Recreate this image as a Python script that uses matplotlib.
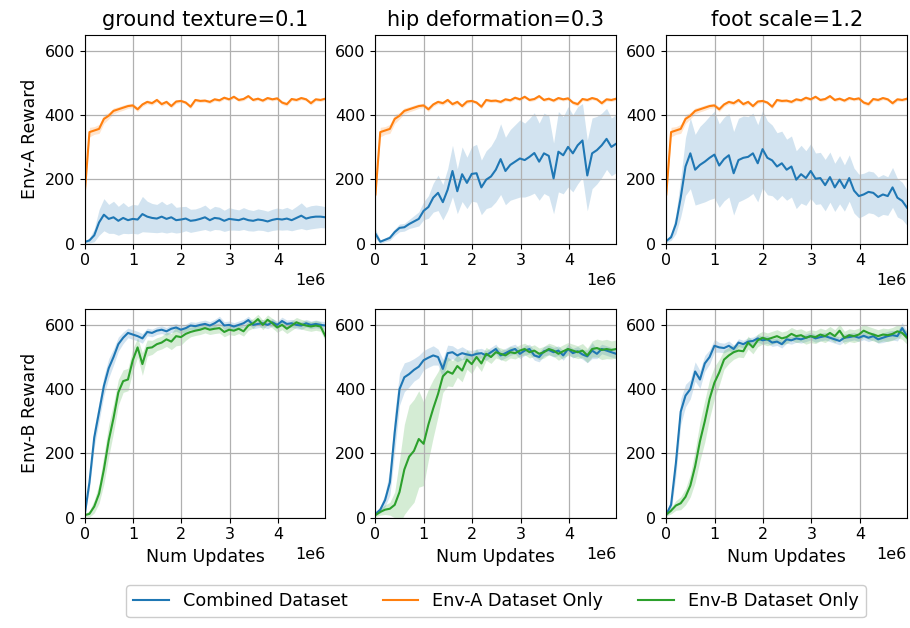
import numpy as np
import matplotlib
matplotlib.use("Agg")
import matplotlib.pyplot as plt

# ---- data -------------------------------------------------------------
titles = ["ground texture=0.1", "hip deformation=0.3", "foot scale=1.2"]
row_labels = ["Env-A Reward", "Env-B Reward"]
series_names = ["Combined Dataset", "Env-A Dataset Only", "Env-B Dataset Only"]
x_max = 4.975e6

# Env-A dataset-only policy evaluated on Env-A (same baseline for every column)
envA_only_mean = [153, 347, 352, 357, 388, 398, 413, 418, 423, 428, 430, 418, 433, 441, 437, 447, 434,
                  441, 428, 442, 444, 439, 426, 447, 444, 445, 441, 449, 446, 454, 449, 457, 447, 450,
                  459, 447, 451, 445, 453, 449, 452, 439, 434, 450, 447, 453, 449, 437, 449, 447, 451]
envA_only_sd = [10, 15, 12, 14, 14, 10, 9, 8, 8, 7, 7, 7, 6, 6, 6, 6, 6, 6, 6, 6, 5, 5, 6, 5, 5, 5,
                5, 5, 5, 5, 5, 5, 5, 5, 5, 5, 5, 5, 5, 5, 5, 6, 6, 5, 5, 5, 5, 6, 5, 5, 5]

# Combined dataset evaluated on Env-A
ground_A_comb_mean = [5, 10, 26, 66, 90, 77, 82, 71, 80, 73, 77, 75, 92, 84, 80, 78, 84, 77, 82, 73, 75,
                      78, 71, 73, 77, 82, 73, 80, 78, 71, 77, 75, 73, 78, 73, 71, 75, 73, 69, 74, 77, 75,
                      78, 73, 80, 87, 78, 82, 84, 84, 82]
ground_A_comb_sd = [3, 8, 20, 40, 50, 45, 50, 45, 48, 42, 45, 45, 55, 48, 45, 44, 48, 44, 46, 40, 40, 38,
                    36, 35, 36, 38, 34, 36, 35, 33, 35, 33, 32, 34, 33, 32, 33, 32, 32, 33, 34, 33, 35,
                    33, 36, 40, 35, 36, 36, 34, 33]
hip_A_comb_mean = [31, 6, 12, 18, 36, 49, 51, 61, 69, 77, 102, 114, 143, 158, 129, 168, 226, 163, 216,
                   189, 217, 219, 175, 199, 209, 230, 263, 226, 245, 255, 265, 260, 270, 282, 255, 281,
                   273, 203, 286, 275, 301, 281, 306, 321, 212, 281, 291, 306, 326, 301, 311]
hip_A_comb_sd = [15, 5, 6, 8, 10, 12, 12, 14, 18, 22, 28, 35, 45, 55, 55, 65, 80, 70, 85, 80, 85, 90, 85,
                 90, 95, 100, 110, 105, 110, 115, 120, 115, 120, 125, 120, 125, 125, 110, 125, 120, 125,
                 120, 120, 115, 110, 110, 105, 100, 95, 90, 90]
foot_A_comb_mean = [8, 20, 61, 143, 240, 281, 230, 245, 255, 267, 277, 243, 263, 275, 219, 260, 267, 270,
                    281, 250, 294, 267, 259, 240, 250, 230, 240, 199, 216, 204, 226, 202, 204, 182, 207,
                    175, 199, 173, 204, 165, 148, 153, 161, 158, 145, 153, 148, 175, 143, 133, 112]
foot_A_comb_sd = [5, 10, 30, 60, 90, 110, 110, 120, 125, 130, 135, 130, 130, 130, 130, 130, 130, 125, 125,
                  120, 120, 115, 110, 105, 100, 95, 95, 90, 90, 85, 85, 80, 80, 80, 78, 75, 75, 72, 72,
                  70, 68, 66, 65, 65, 62, 62, 60, 62, 60, 58, 55]

# Combined dataset evaluated on Env-B
ground_B_comb_mean = [8, 110, 250, 330, 410, 465, 500, 540, 560, 575, 570, 565, 558, 578, 575, 582, 585,
                      580, 588, 592, 585, 590, 598, 596, 600, 603, 598, 605, 615, 598, 600, 595, 600, 605,
                      615, 600, 603, 605, 600, 608, 600, 612, 603, 605, 600, 598, 605, 600, 603, 600, 598]
ground_B_comb_sd = [5, 20, 30, 30, 30, 30, 25, 22, 18, 15, 15, 15, 15, 12, 12, 12, 12, 12, 12, 12, 12,
                    12, 12, 12, 12, 12, 12, 12, 12, 12, 12, 12, 12, 12, 12, 12, 12, 12, 12, 12, 12, 12,
                    12, 12, 12, 12, 12, 12, 12, 12, 12]
hip_B_comb_mean = [12, 25, 55, 110, 265, 400, 437, 447, 460, 470, 490, 498, 505, 500, 463, 512, 515, 505,
                   512, 508, 505, 510, 512, 505, 515, 525, 505, 512, 520, 525, 510, 520, 525, 505, 500,
                   518, 522, 515, 520, 505, 525, 512, 518, 508, 502, 520, 510, 525, 520, 515, 510]
hip_B_comb_sd = [5, 10, 20, 40, 60, 50, 45, 40, 35, 35, 30, 30, 30, 25, 30, 25, 20, 20, 20, 15, 15, 15,
                 15, 15, 15, 15, 15, 15, 15, 15, 15, 15, 15, 15, 15, 15, 15, 15, 15, 15, 15, 15, 15, 15,
                 20, 25, 15, 15, 15, 15, 15]
foot_B_comb_mean = [10, 40, 170, 330, 380, 400, 455, 430, 480, 500, 535, 530, 528, 535, 525, 545, 540,
                    548, 550, 558, 552, 555, 545, 548, 540, 555, 552, 558, 555, 560, 565, 558, 562, 565,
                    560, 555, 550, 560, 562, 565, 560, 566, 560, 565, 555, 560, 565, 568, 565, 590, 565]
foot_B_comb_sd = [5, 20, 40, 40, 35, 30, 30, 28, 25, 22, 20, 15, 15, 15, 12, 12, 12, 12, 12, 12, 12, 12,
                  12, 12, 12, 12, 12, 12, 12, 12, 12, 12, 12, 12, 12, 12, 12, 12, 12, 12, 12, 12, 12, 12,
                  12, 15, 15, 15, 15, 18, 15]

# Env-B dataset-only policy evaluated on Env-B
ground_B_only_mean = [8, 12, 35, 75, 150, 240, 310, 390, 425, 430, 490, 530, 478, 528, 530, 540, 545, 555,
                      548, 565, 562, 572, 578, 582, 585, 590, 585, 588, 590, 578, 585, 582, 588, 580, 598,
                      605, 618, 600, 616, 605, 592, 600, 588, 598, 608, 602, 598, 595, 598, 595, 565]
ground_B_only_sd = [5, 10, 20, 30, 45, 50, 45, 40, 35, 35, 35, 30, 35, 25, 22, 20, 20, 22, 25, 30, 25, 20,
                    15, 15, 15, 15, 15, 15, 15, 15, 15, 15, 15, 15, 15, 15, 15, 15, 15, 15, 15, 15, 15,
                    15, 15, 15, 15, 15, 15, 15, 15]
hip_B_only_mean = [8, 18, 25, 28, 40, 80, 150, 190, 208, 245, 230, 290, 340, 385, 440, 455, 448, 472, 458,
                   492, 478, 500, 480, 510, 500, 515, 510, 505, 515, 512, 520, 525, 515, 520, 510, 515,
                   525, 520, 510, 518, 525, 520, 515, 520, 505, 525, 528, 522, 525, 522, 525]
hip_B_only_sd = [5, 10, 15, 20, 40, 100, 140, 160, 160, 150, 130, 110, 90, 70, 50, 45, 40, 35, 35, 30, 30,
                 25, 25, 20, 20, 18, 18, 18, 18, 18, 18, 18, 18, 18, 18, 18, 18, 18, 20, 20, 20, 20, 20,
                 22, 22, 25, 28, 30, 30, 28, 28]
foot_B_only_mean = [10, 22, 38, 45, 65, 100, 160, 238, 300, 370, 420, 452, 492, 505, 515, 520, 518, 545,
                    530, 552, 560, 555, 560, 565, 558, 562, 572, 565, 568, 560, 565, 562, 570, 565, 575,
                    565, 582, 560, 568, 565, 570, 582, 575, 570, 565, 570, 568, 572, 580, 575, 560]
foot_B_only_sd = [5, 10, 15, 20, 25, 35, 50, 60, 65, 60, 50, 40, 30, 25, 22, 20, 20, 20, 20, 20, 20, 20,
                  20, 20, 20, 20, 20, 20, 20, 20, 20, 20, 20, 20, 20, 20, 20, 20, 20, 20, 20, 20, 20, 20,
                  20, 20, 20, 20, 20, 20, 20]

# (row, col) -> list of (series index, mean, sd)
panels = {
    (0, 0): [(0, ground_A_comb_mean, ground_A_comb_sd), (1, envA_only_mean, envA_only_sd)],
    (0, 1): [(0, hip_A_comb_mean, hip_A_comb_sd), (1, envA_only_mean, envA_only_sd)],
    (0, 2): [(0, foot_A_comb_mean, foot_A_comb_sd), (1, envA_only_mean, envA_only_sd)],
    (1, 0): [(0, ground_B_comb_mean, ground_B_comb_sd), (2, ground_B_only_mean, ground_B_only_sd)],
    (1, 1): [(0, hip_B_comb_mean, hip_B_comb_sd), (2, hip_B_only_mean, hip_B_only_sd)],
    (1, 2): [(0, foot_B_comb_mean, foot_B_comb_sd), (2, foot_B_only_mean, foot_B_only_sd)],
}
colors = ["#1f77b4", "#ff7f0e", "#2ca02c"]

# ---- figure -----------------------------------------------------------
fig, axes = plt.subplots(2, 3, figsize=(9.1, 6.28), dpi=100)
fig.subplots_adjust(left=0.093, right=0.9967, top=0.9447, bottom=0.1756,
                    wspace=0.208, hspace=0.312)

handles = {}
for (r, c), series in panels.items():
    ax = axes[r, c]
    for idx, mean, sd in series:
        m = np.asarray(mean, dtype=float)
        s = np.asarray(sd, dtype=float)
        x = np.linspace(0, x_max, len(m))
        ax.fill_between(x, m - s, m + s, color=colors[idx], alpha=0.2, linewidth=0)
        line, = ax.plot(x, m, color=colors[idx], linewidth=1.5, label=series_names[idx])
        handles[idx] = line
    ax.set_xlim(0, x_max)
    ax.set_ylim(0, 650)
    ax.set_yticks([0, 200, 400, 600])
    ax.grid(True, color="#b0b0b0", linewidth=0.9)
    ax.tick_params(labelsize=11.5)
    ax.xaxis.get_offset_text().set_fontsize(11.5)
    if r == 0:
        ax.set_title(titles[c], fontsize=15)
    else:
        ax.set_xlabel("Num Updates", fontsize=12.5)
    if c == 0:
        ax.set_ylabel(row_labels[r], fontsize=12.5)

fig.legend([handles[i] for i in range(3)], series_names, loc="lower center",
           bbox_to_anchor=(0.545, 0.003), ncol=3, fontsize=12.7, framealpha=1,
           edgecolor="#cccccc")

fig.savefig("out.png", dpi=100)
